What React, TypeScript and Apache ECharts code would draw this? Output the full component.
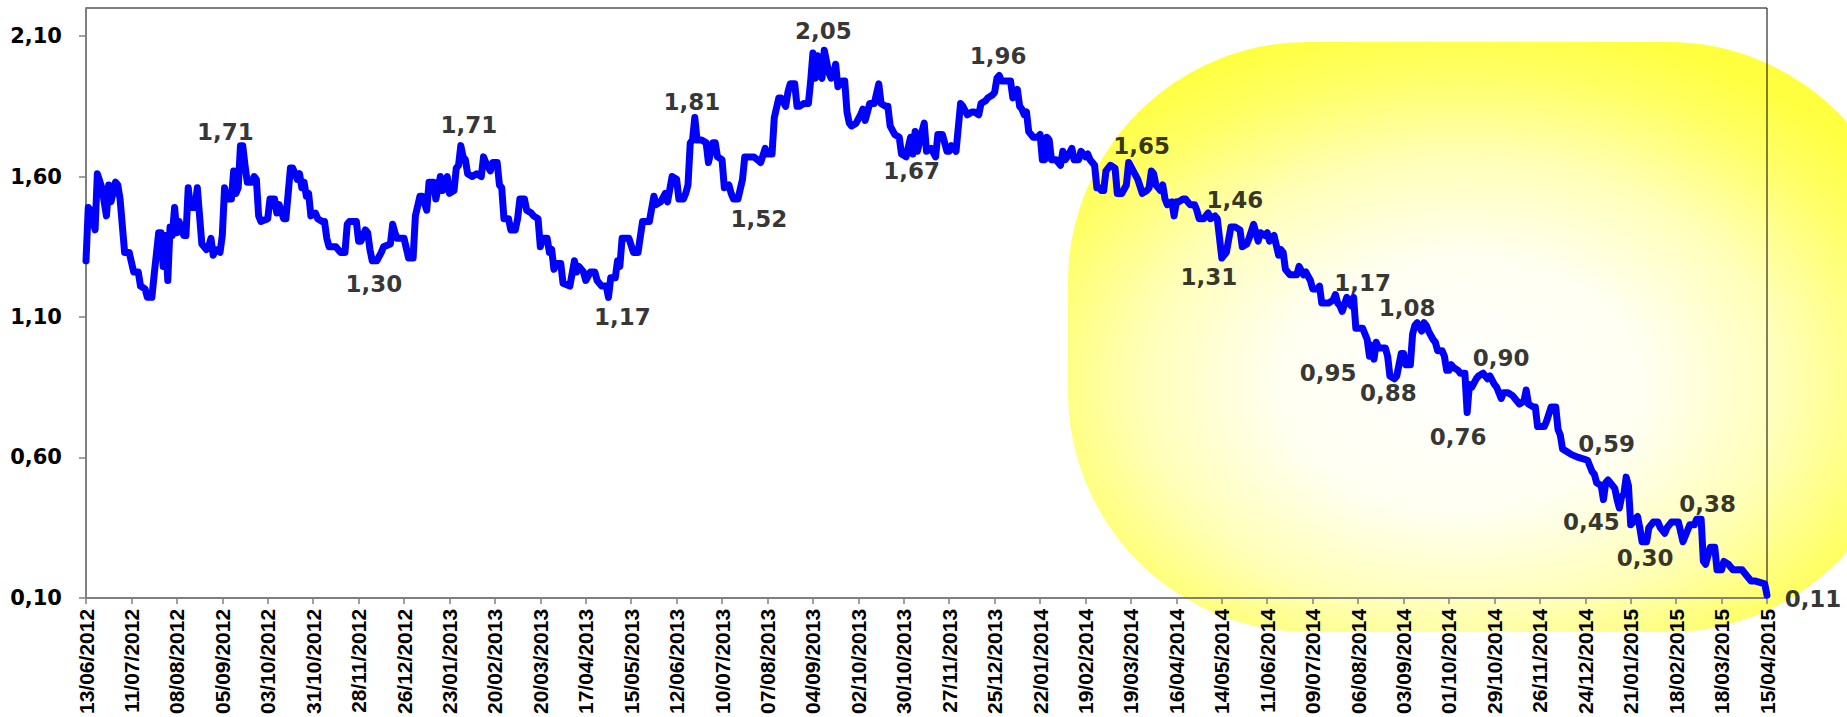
import React, { useEffect, useRef } from 'react';
import * as echarts from 'echarts';

// ---- axis definition -------------------------------------------------------
const FIRST_TRADING_DAY = [2012, 6, 13]; // 13/06/2012 (Wednesday)
const TRADING_DAY_COUNT = 741; // weekdays up to 15/04/2015
const LABEL_STEP = 20; // one label every 20 trading days (4 weeks)
const yTickValues = [0.1, 0.6, 1.1, 1.6, 2.1];
const yMin = 0.1;
const yMax = 2.2;

// ---- price series: [trading-day index, price] --------------------------------
const prices2012 = [
  [0, 1.3], [1, 1.49], [2, 1.48], [4, 1.41], [5, 1.61], [7, 1.56], [9, 1.46], [10, 1.57], [11, 1.51],
  [13, 1.58], [14, 1.57], [15, 1.52], [17, 1.33], [19, 1.33], [21, 1.26], [23, 1.26], [24, 1.21],
  [26, 1.2], [27, 1.17], [29, 1.17], [30, 1.25], [32, 1.4], [33, 1.4], [34, 1.28], [35, 1.39],
  [36, 1.23], [37, 1.42], [38, 1.39], [39, 1.49], [40, 1.4], [41, 1.44], [43, 1.39], [44, 1.39],
  [45, 1.56], [46, 1.49], [48, 1.49], [49, 1.56], [51, 1.36], [53, 1.34], [54, 1.35], [55, 1.38],
  [56, 1.32], [57, 1.34], [59, 1.33], [60, 1.39], [61, 1.56], [62, 1.52], [64, 1.52], [65, 1.62],
  [66, 1.54], [67, 1.56], [68, 1.71], [69, 1.71], [70, 1.64], [71, 1.58], [73, 1.58], [74, 1.6],
  [75, 1.59], [76, 1.46], [77, 1.44], [80, 1.45], [81, 1.52], [83, 1.52], [84, 1.47], [85, 1.5],
  [87, 1.45], [88, 1.45], [90, 1.63], [91, 1.63], [93, 1.59], [94, 1.61], [95, 1.56], [96, 1.58],
  [97, 1.53], [98, 1.54], [99, 1.46], [101, 1.47], [102, 1.45], [104, 1.44], [105, 1.44], [106, 1.38],
  [107, 1.35], [110, 1.35], [112, 1.33], [114, 1.33], [115, 1.43], [116, 1.44], [119, 1.44],
  [120, 1.37], [121, 1.37], [123, 1.41], [124, 1.4], [125, 1.34], [126, 1.3], [128, 1.3], [130, 1.33],
  [131, 1.35], [134, 1.36], [135, 1.43], [136, 1.4], [137, 1.38], [140, 1.38], [142, 1.31], [144, 1.31],
];

const prices2013 = [
  [145, 1.46], [147, 1.53], [148, 1.53], [150, 1.48], [151, 1.58], [153, 1.58], [154, 1.52],
  [156, 1.6], [157, 1.55], [159, 1.6], [160, 1.54], [162, 1.55], [163, 1.63], [164, 1.64], [165, 1.71],
  [166, 1.67], [167, 1.66], [168, 1.61], [170, 1.6], [172, 1.61], [174, 1.6], [175, 1.67], [176, 1.65],
  [178, 1.62], [179, 1.65], [181, 1.65], [182, 1.57], [183, 1.56], [184, 1.45], [186, 1.45],
  [187, 1.41], [189, 1.41], [190, 1.45], [191, 1.52], [193, 1.52], [194, 1.48], [196, 1.47],
  [197, 1.46], [199, 1.45], [200, 1.35], [201, 1.38], [203, 1.38], [204, 1.33], [205, 1.34],
  [206, 1.27], [207, 1.29], [209, 1.29], [210, 1.22], [213, 1.21], [215, 1.3], [216, 1.26],
  [217, 1.28], [219, 1.26], [220, 1.23], [222, 1.26], [224, 1.26], [225, 1.23], [227, 1.21],
  [229, 1.21], [230, 1.17], [231, 1.24], [233, 1.24], [234, 1.3], [235, 1.28], [236, 1.38],
  [239, 1.38], [241, 1.33], [243, 1.33], [245, 1.44], [248, 1.44], [250, 1.53], [251, 1.5],
  [253, 1.51], [255, 1.54], [256, 1.51], [258, 1.6], [260, 1.59], [261, 1.52], [263, 1.52],
  [264, 1.54], [265, 1.57], [266, 1.72], [267, 1.73], [268, 1.81], [269, 1.73], [271, 1.73],
  [273, 1.72], [274, 1.65], [276, 1.72], [277, 1.72], [278, 1.67], [280, 1.66], [281, 1.56],
  [283, 1.57], [284, 1.54], [285, 1.52], [287, 1.52], [289, 1.59], [290, 1.67], [292, 1.67],
  [294, 1.67], [297, 1.65], [299, 1.7], [300, 1.68], [302, 1.68], [303, 1.81], [305, 1.88],
  [306, 1.88], [308, 1.85], [309, 1.9], [310, 1.93], [312, 1.93], [313, 1.85], [314, 1.85],
  [316, 1.86], [318, 1.86], [319, 1.94], [320, 2.04], [321, 1.95], [322, 2.03], [323, 1.96],
  [324, 1.95], [325, 2.05], [327, 1.97], [328, 1.95], [329, 1.96], [330, 2.0], [331, 1.92],
  [333, 1.94], [334, 1.94], [335, 1.83], [336, 1.79], [337, 1.78], [339, 1.79], [341, 1.82],
  [342, 1.84], [343, 1.8], [345, 1.86], [347, 1.86], [349, 1.93], [350, 1.86], [352, 1.85],
  [353, 1.85], [354, 1.78], [356, 1.75], [358, 1.74], [359, 1.68], [361, 1.67], [363, 1.74],
  [364, 1.68], [365, 1.76], [366, 1.69], [368, 1.76], [369, 1.79], [370, 1.69], [372, 1.7],
  [374, 1.67], [375, 1.75], [377, 1.75], [379, 1.69], [380, 1.69], [381, 1.71], [383, 1.69],
  [385, 1.86], [386, 1.85], [388, 1.82], [390, 1.83], [391, 1.83], [393, 1.82], [394, 1.86],
  [396, 1.87], [397, 1.88], [399, 1.89], [400, 1.9], [401, 1.95], [402, 1.96], [403, 1.94],
];

const prices2014 = [
  [405, 1.94], [406, 1.94], [407, 1.94], [408, 1.88], [410, 1.91], [411, 1.85], [412, 1.84],
  [413, 1.82], [414, 1.83], [415, 1.76], [417, 1.74], [419, 1.74], [420, 1.75], [421, 1.66],
  [422, 1.66], [423, 1.74], [424, 1.73], [425, 1.66], [427, 1.66], [429, 1.64], [430, 1.69],
  [431, 1.66], [432, 1.67], [434, 1.7], [435, 1.66], [437, 1.66], [438, 1.69], [440, 1.67],
  [441, 1.68], [442, 1.66], [444, 1.64], [445, 1.56], [446, 1.56], [447, 1.55], [448, 1.55],
  [449, 1.62], [451, 1.64], [453, 1.63], [454, 1.54], [456, 1.54], [458, 1.57], [459, 1.65],
  [461, 1.62], [463, 1.59], [465, 1.54], [467, 1.55], [468, 1.56], [469, 1.62], [470, 1.61],
  [471, 1.57], [473, 1.55], [474, 1.57], [475, 1.52], [476, 1.5], [478, 1.51], [479, 1.46],
  [480, 1.51], [481, 1.51], [483, 1.52], [484, 1.52], [486, 1.5], [488, 1.5], [489, 1.48],
  [490, 1.45], [492, 1.45], [494, 1.47], [495, 1.45], [497, 1.46], [498, 1.45], [500, 1.31],
  [502, 1.33], [504, 1.42], [506, 1.42], [508, 1.41], [509, 1.35], [511, 1.36], [512, 1.38],
  [514, 1.43], [515, 1.4], [516, 1.37], [517, 1.4], [519, 1.39], [520, 1.4], [521, 1.37],
  [523, 1.39], [525, 1.32], [526, 1.34], [527, 1.33], [528, 1.27], [530, 1.25], [533, 1.25],
  [534, 1.28], [536, 1.25], [537, 1.26], [539, 1.23], [540, 1.2], [542, 1.2], [543, 1.21],
  [544, 1.15], [546, 1.15], [547, 1.15], [549, 1.16], [550, 1.18], [551, 1.15], [552, 1.14],
  [553, 1.12], [555, 1.17], [556, 1.15], [557, 1.14], [558, 1.17], [559, 1.06], [560, 1.06],
  [562, 1.06], [564, 1.02], [565, 0.96], [566, 1.0], [567, 0.95], [568, 1.01], [569, 0.99],
  [572, 0.99], [573, 0.96], [574, 0.89], [576, 0.88], [577, 0.89], [579, 0.97], [580, 0.97],
  [581, 0.93], [583, 0.93], [584, 1.04], [585, 1.07], [586, 1.08], [588, 1.05], [589, 1.08],
  [590, 1.07], [591, 1.05], [593, 1.02], [594, 1.01], [595, 0.98], [597, 0.98], [598, 0.96],
  [599, 0.91], [600, 0.91], [601, 0.93], [602, 0.92], [604, 0.91], [605, 0.9], [607, 0.9],
  [608, 0.76], [609, 0.86], [610, 0.85], [612, 0.88], [613, 0.89], [615, 0.9], [617, 0.88],
  [618, 0.89], [620, 0.86], [621, 0.85], [623, 0.81], [624, 0.83], [626, 0.83], [628, 0.82],
  [630, 0.8], [631, 0.79], [633, 0.8], [634, 0.84], [635, 0.79], [637, 0.78], [638, 0.78],
  [639, 0.71], [642, 0.71], [643, 0.73], [645, 0.78], [647, 0.78], [648, 0.7], [649, 0.68],
  [650, 0.63], [652, 0.62], [654, 0.61], [657, 0.6], [661, 0.59], [663, 0.55], [664, 0.54],
  [665, 0.51],
];

const prices2015 = [
  [667, 0.5], [668, 0.45], [669, 0.51], [670, 0.52], [671, 0.51], [673, 0.49], [674, 0.45],
  [675, 0.42], [676, 0.46], [677, 0.47], [678, 0.53], [679, 0.5], [680, 0.36], [681, 0.37],
  [683, 0.39], [684, 0.35], [685, 0.3], [687, 0.3], [688, 0.35], [690, 0.37], [692, 0.37],
  [693, 0.35], [695, 0.33], [696, 0.35], [698, 0.37], [700, 0.37], [701, 0.37], [703, 0.3],
  [705, 0.34], [706, 0.36], [708, 0.36], [709, 0.38], [711, 0.38], [712, 0.23], [713, 0.22],
  [715, 0.28], [717, 0.28], [718, 0.2], [720, 0.2], [721, 0.23], [723, 0.22], [725, 0.2],
  [726, 0.2], [728, 0.2], [729, 0.2], [731, 0.18], [733, 0.16], [735, 0.16], [739, 0.15],
  [740, 0.11],
];

// trading days whose value is written on the chart
const labelledDays = [
  68, 128, 165, 230, 268, 287, 325, 374, 402, 459, 497, 500, 558, 586, 567, 576, 615, 608, 661,
  668, 685, 709, 740,
];
// where each value label sits relative to its point (px)
const labelOffsets = [
  [-15, -14], [-3, 23], [8, -21], [14, 20], [-3, -16], [21, 20], [-1, -19], [-24, 14], [-1, -19],
  [13, -16], [20, -16], [-13, 19], [9, -14], [-10, -15], [-46, 14], [-6, 14], [18, -15], [-9, 24],
  [19, -16], [-12, 22], [3, 16], [11, -15], [46, 4],
];

// ---------------------------------------------------------------------------
const pad = (n: number) => (n < 10 ? '0' + n : '' + n);

function buildTradingDays(): string[] {
  const out: string[] = [];
  const d = new Date(Date.UTC(FIRST_TRADING_DAY[0], FIRST_TRADING_DAY[1] - 1, FIRST_TRADING_DAY[2]));
  while (out.length < TRADING_DAY_COUNT) {
    const wd = d.getUTCDay();
    if (wd !== 0 && wd !== 6) {
      out.push(pad(d.getUTCDate()) + '/' + pad(d.getUTCMonth() + 1) + '/' + d.getUTCFullYear());
    }
    d.setUTCDate(d.getUTCDate() + 1);
  }
  return out;
}

const fmt = (v: number) => v.toFixed(2).replace('.', ',');

export default function App() {
  const ref = useRef<HTMLDivElement>(null);

  useEffect(() => {
    if (!ref.current) return;
    const chart = echarts.init(ref.current, undefined, { renderer: 'svg' });
    const days = buildTradingDays();
    const allPrices = [...prices2012, ...prices2013, ...prices2014, ...prices2015];
    const lineData = allPrices.map(([d, v]) => [days[d], v]);
    const labelData = labelledDays.map((d, j) => {
      const p = allPrices.find((q) => q[0] === d)!;
      return {
        value: [days[d], p[1]],
        label: { offset: labelOffsets[j] },
      };
    });

    const gradient = new echarts.graphic.RadialGradient(0.47, 0.58, 0.62, [
      { offset: 0, color: '#FFFFFF' },
      { offset: 0.35, color: '#FFFFF2' },
      { offset: 0.62, color: '#FFFFB8' },
      { offset: 0.85, color: '#FFFF66' },
      { offset: 1, color: '#FFFF40' },
    ]);

    const axisGrey = '#808080';

    chart.setOption({
      animation: false,
      backgroundColor: '#FFFFFF',
      graphic: [
        {
          type: 'rect',
          silent: true,
          z: -10,
          shape: { x: 1068, y: 42, width: 840, height: 590, r: 240 },
          style: { fill: gradient },
        },
      ],
      grid: {
        left: 86,
        right: 80,
        top: 8,
        bottom: 117,
        show: true,
        borderColor: '#000000',
        borderWidth: 1,
        backgroundColor: 'transparent',
      },
      xAxis: {
        type: 'category',
        data: days,
        boundaryGap: false,
        axisLine: { show: true, lineStyle: { color: axisGrey, width: 2 } },
        axisTick: {
          show: true,
          interval: LABEL_STEP - 1,
          length: 6,
          lineStyle: { color: axisGrey, width: 1.5 },
        },
        axisLabel: {
          interval: LABEL_STEP - 1,
          rotate: 90,
          margin: 11,
          color: '#000000',
          fontFamily: 'Liberation Sans',
          fontWeight: 'bold',
          fontSize: 21,
        },
        splitLine: { show: false },
      },
      yAxis: {
        type: 'value',
        min: yMin,
        max: yMax,
        interval: 0.5,
        axisLine: { show: true, lineStyle: { color: axisGrey, width: 2 } },
        axisTick: {
          show: true,
          length: 7,
          customValues: yTickValues,
          lineStyle: { color: axisGrey, width: 1.5 },
        },
        axisLabel: {
          customValues: yTickValues,
          margin: 24,
          color: '#000000',
          fontFamily: 'DejaVu Sans',
          fontWeight: 'bold',
          fontSize: 21,
          formatter: (v: number) => fmt(v),
        },
        splitLine: { show: false },
      },
      series: [
        {
          name: 'Price',
          type: 'line',
          data: lineData,
          showSymbol: false,
          symbol: 'none',
          z: 3,
          lineStyle: { color: '#0000FF', width: 7, join: 'round', cap: 'round' },
        },
        {
          name: 'Labels',
          type: 'scatter',
          data: labelData,
          symbolSize: 1,
          z: 4,
          clip: false,
          itemStyle: { color: 'rgba(0,0,0,0)' },
          label: {
            show: true,
            position: 'inside',
            align: 'center',
            verticalAlign: 'middle',
            color: '#000000',
            fontFamily: 'DejaVu Sans',
            fontWeight: 'bold',
            fontSize: 23,
            formatter: (p: any) => fmt(p.value[1]),
          },
        },
      ],
    });

    return () => chart.dispose();
  }, []);

  return (
    <div
      ref={ref}
      style={{ position: 'absolute', left: 0, top: 0, width: 1847, height: 717 }}
    />
  );
}
